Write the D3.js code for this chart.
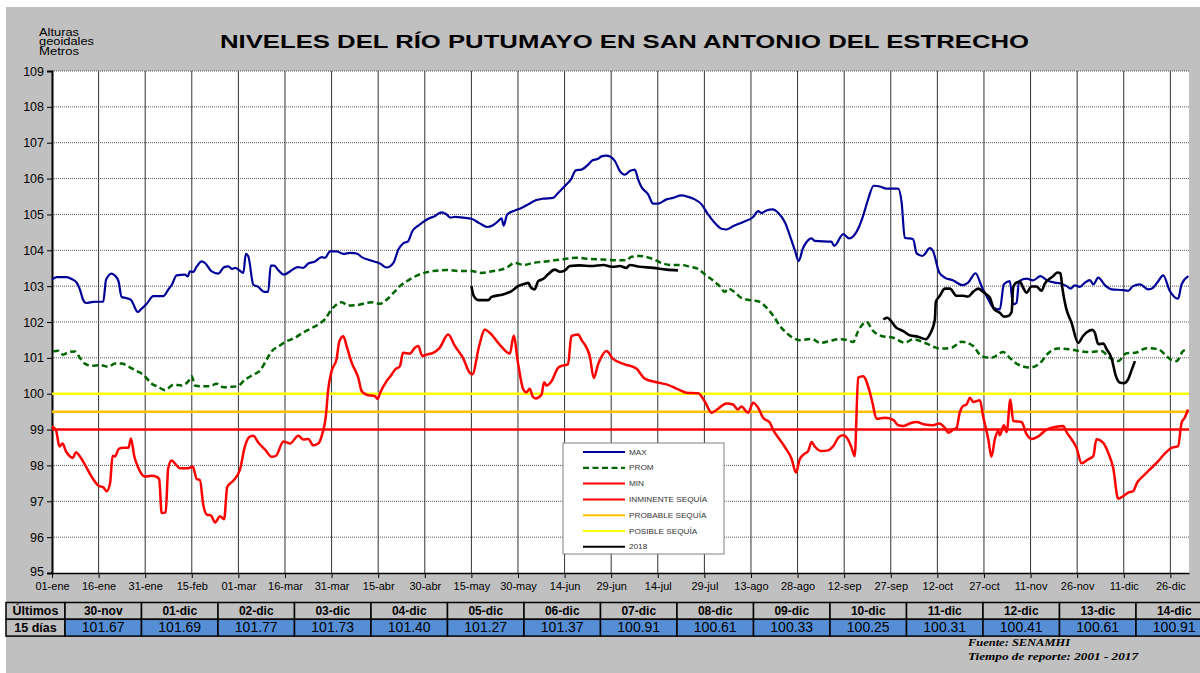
<html>
<head>
<meta charset="utf-8">
<title>Niveles del río Putumayo</title>
<script src="https://d3js.org/d3.v7.min.js"></script>
<style>
  body { margin: 0; background: #fff; }
  text { font-family: "Liberation Sans", Arial, sans-serif; }
</style>
</head>
<body>
<div class="chart"></div>
<script>
// dias desde 01-ene (año bisiesto), cada 15 dias
const tickDays = d3.range(0, 361, 15);
const tickLabels = ["01-ene","16-ene","31-ene","15-feb","01-mar","16-mar","31-mar","15-abr","30-abr","15-may","30-may","14-jun","29-jun","14-jul","29-jul","13-ago","28-ago","12-sep","27-sep","12-oct","27-oct","11-nov","26-nov","11-dic","26-dic"];
const yTicks = d3.range(95, 110);

// [dia, nivel]
const maxSerie = [[0,103.18],[1.5,103.25],[4.7,103.25],[6.3,103.2],[8,103.09],[9,102.9],[10,102.62],[11,102.53],[13.3,102.56],[16.5,102.57],[17.4,103.18],[19.2,103.35],[20.3,103.29],[21.4,103.14],[22.4,102.7],[23.8,102.67],[25.4,102.62],[26,102.53],[27.6,102.28],[28.6,102.35],[30.5,102.51],[32.6,102.72],[35.8,102.72],[37.4,102.9],[38.7,103.06],[40.1,103.3],[42.8,103.32],[43.7,103.27],[44.4,103.41],[45.5,103.4],[46.6,103.55],[48.2,103.69],[49.2,103.65],[51.4,103.41],[53.5,103.35],[55.4,103.53],[56.8,103.55],[58,103.48],[59,103.51],[60.5,103.43],[61.6,103.37],[62.4,103.9],[63.2,103.83],[64.8,103.04],[66.4,102.98],[68.3,102.84],[69.6,102.84],[70.4,103.57],[71.5,103.57],[72.9,103.44],[74.7,103.32],[76.6,103.41],[79.1,103.53],[80.9,103.51],[82.5,103.63],[84.7,103.69],[86.8,103.81],[87.9,103.79],[89.5,103.97],[91.6,103.97],[93.8,103.9],[95.9,103.93],[98.1,103.91],[99.7,103.81],[102.4,103.72],[105.6,103.63],[107.7,103.52],[109.9,103.65],[111.5,104.02],[113,104.19],[114.6,104.25],[116,104.53],[117.9,104.69],[119.5,104.79],[121.1,104.88],[123.2,104.95],[125.4,105.06],[127,105.0],[128.3,104.91],[129.7,104.93],[132.3,104.91],[135,104.88],[137.7,104.75],[140.1,104.65],[141.8,104.69],[143.6,104.81],[144.7,104.89],[145.4,104.69],[146.5,105.0],[148.4,105.09],[151.1,105.18],[153.3,105.28],[155.9,105.4],[158.1,105.44],[161.3,105.46],[162.9,105.6],[165.1,105.79],[167.2,106.0],[168.6,106.23],[170.4,106.25],[172.6,106.39],[174,106.51],[175.8,106.55],[176.9,106.62],[178.3,106.64],[179.8,106.61],[181.2,106.49],[182.8,106.21],[184.4,106.11],[186,106.21],[187.6,106.25],[188.7,105.97],[189.7,105.77],[191.9,105.56],[193.5,105.3],[195.1,105.3],[197.8,105.42],[199.9,105.46],[202.6,105.53],[204.8,105.49],[206.9,105.42],[209.1,105.28],[211.2,105.0],[213.3,104.77],[215.5,104.6],[217.1,104.58],[219.2,104.67],[222.5,104.79],[225.7,104.93],[227.3,105.09],[228.4,105.04],[230,105.11],[232,105.14],[233.8,105.04],[236,104.77],[237.6,104.39],[239.2,103.98],[240.3,103.7],[241.8,104.07],[242.9,104.23],[244.5,104.33],[245.6,104.26],[250.9,104.24],[251.8,104.12],[254.7,104.45],[256.6,104.33],[259.5,104.6],[261.1,104.96],[262.7,105.42],[264.5,105.8],[266.5,105.78],[268.6,105.72],[272.4,105.72],[273.5,105.33],[274.5,104.35],[277.2,104.31],[278.3,103.92],[280.2,103.84],[282.6,104.06],[283.6,103.98],[285.6,103.38],[287.4,103.24],[290.1,103.16],[293,103.03],[294.9,103.1],[297.3,103.36],[299.2,103.0],[301.4,102.63],[303,102.4],[305.1,102.35],[306.4,103.05],[308.3,103.14],[309.4,102.49],[310.5,102.54],[311.3,103.14],[313.7,103.21],[315.8,103.16],[318.2,103.28],[320.3,103.16],[322.8,103.1],[324.4,103.08],[326.6,103.0],[327.9,102.93],[329.2,103.02],[330.9,102.98],[332.5,103.1],[334.1,103.17],[335.2,103.05],[336.8,103.24],[339,103.02],[341.1,102.91],[344.8,102.89],[346.4,102.87],[348,103.0],[350.2,103.05],[352.9,102.91],[354.5,102.96],[356.1,103.14],[357.7,103.3],[359.8,102.87],[362.5,102.65],[363.6,103.05],[365.8,103.28]];

const promSerie = [[0.4,101.18],[2,101.2],[3.6,101.09],[5.3,101.16],[7.4,101.18],[9,101.0],[10.6,100.84],[12.8,100.78],[15.5,100.8],[18.1,100.75],[20.3,100.84],[22.4,100.84],[24.6,100.76],[27.3,100.63],[29.4,100.53],[32.1,100.28],[34.2,100.19],[36.4,100.1],[39.1,100.25],[41.7,100.23],[43.9,100.35],[45,100.49],[46,100.23],[48.2,100.21],[50.9,100.21],[53,100.28],[55.2,100.18],[57.3,100.19],[59.7,100.21],[62.1,100.39],[64.8,100.53],[67,100.65],[69.1,100.95],[70.7,101.18],[72.9,101.32],[75.5,101.46],[78.2,101.56],[80.9,101.71],[83.6,101.83],[85.7,101.93],[87.9,102.08],[90,102.35],[93.2,102.55],[95.4,102.46],[98.1,102.47],[100.2,102.51],[102.9,102.55],[105.6,102.51],[107.7,102.62],[109.9,102.81],[112,103.0],[115.2,103.19],[119,103.35],[122.7,103.42],[127,103.45],[131.3,103.42],[135,103.42],[138.2,103.37],[142,103.42],[146.3,103.51],[149,103.65],[151.7,103.59],[154.9,103.65],[158.1,103.68],[161.8,103.72],[165.1,103.76],[168.8,103.79],[173.1,103.76],[177.4,103.74],[181.7,103.72],[184.9,103.72],[186.5,103.82],[189.2,103.84],[193,103.77],[196.7,103.63],[199.4,103.59],[202.6,103.59],[205.3,103.54],[208,103.48],[210.1,103.33],[212.3,103.19],[214.9,103.0],[216.6,102.84],[217.6,102.93],[219.8,102.83],[221.9,102.67],[224.6,102.61],[227.3,102.58],[230,102.4],[232.6,102.12],[234.2,101.9],[236.4,101.7],[239.1,101.53],[240.7,101.49],[244.5,101.53],[247.2,101.42],[250.4,101.47],[253.1,101.52],[255.8,101.5],[257.9,101.44],[259.5,101.75],[262.2,102.0],[264.3,101.75],[267,101.61],[270.8,101.56],[274.5,101.42],[277.2,101.52],[281.5,101.4],[285.8,101.26],[289.5,101.28],[292.8,101.45],[296.5,101.33],[299.2,101.05],[302.4,101.0],[306.2,101.16],[308.3,101.0],[310.5,100.84],[314.8,100.73],[318,100.85],[320.7,101.13],[323.9,101.26],[327.6,101.24],[330.9,101.19],[334.1,101.16],[337.8,101.19],[340.5,101.0],[343.2,100.91],[345.9,101.13],[348.6,101.14],[352.3,101.27],[356.1,101.24],[358.2,101.1],[360.4,100.94],[362,100.91],[364.1,101.19],[365.7,101.24]];

const minSerie = [[0,99.09],[1.3,98.98],[2.4,98.53],[3.4,98.61],[4.5,98.39],[5.8,98.25],[6.7,98.21],[7.7,98.37],[9,98.25],[10.6,98.02],[12.8,97.68],[14.9,97.44],[16.5,97.39],[17.6,97.28],[18.7,97.51],[19.5,98.27],[20.3,98.25],[21.5,98.46],[23,98.49],[24.6,98.49],[25.4,98.75],[26.5,98.25],[27.6,97.97],[29.9,97.69],[32.1,97.71],[33.7,97.68],[34.5,97.62],[35.3,96.67],[36.6,96.69],[37.4,97.92],[38.5,98.14],[39.6,98.05],[41.2,97.92],[43.9,97.92],[45.3,97.97],[46.6,97.62],[47.6,97.6],[48.7,96.9],[49.8,96.63],[51.2,96.6],[52.5,96.41],[54.1,96.58],[55.4,96.5],[56.4,97.4],[58.4,97.58],[60.5,97.88],[62.1,98.53],[63.5,98.79],[64.8,98.83],[66.4,98.64],[68.6,98.44],[70.7,98.24],[72.1,98.27],[74.5,98.67],[76.6,98.61],[79.3,98.83],[80.9,98.72],[82.5,98.74],[84.1,98.56],[85.7,98.61],[86.8,98.82],[88.2,99.42],[88.9,100.11],[90,100.63],[91.6,100.97],[92.5,101.46],[93.8,101.6],[94.8,101.34],[96.5,100.86],[98.6,100.44],[99.7,100.07],[101.3,99.97],[104,99.93],[104.8,99.85],[105.6,100.02],[107.7,100.35],[109.3,100.53],[110.4,100.67],[112,100.77],[113,101.14],[115.2,101.12],[116.8,101.28],[117.9,101.33],[119.2,101.05],[120.5,101.09],[122.7,101.14],[124.8,101.28],[127.5,101.65],[129.7,101.33],[132.3,101.0],[134.5,100.58],[135.3,100.54],[137.5,101.33],[139.3,101.79],[140.9,101.7],[144.1,101.37],[147.4,101.12],[148.6,101.62],[150,100.86],[151.7,100.12],[152.7,100.04],[153.8,100.14],[154.7,99.93],[155.7,99.87],[157.6,99.98],[158.4,100.32],[159.2,100.23],[160.8,100.35],[162.9,100.72],[164.5,100.79],[166.1,100.82],[167.2,101.61],[169.4,101.65],[170.4,101.51],[173.1,101.05],[174.4,100.44],[175.8,100.82],[178.5,101.19],[180.6,100.97],[184.4,100.82],[188.1,100.7],[190.8,100.42],[194.6,100.32],[197.8,100.26],[201.6,100.12],[204.2,100.03],[208,100.01],[210.1,99.79],[212.3,99.47],[214.4,99.58],[217.1,99.73],[219.2,99.7],[220.8,99.56],[221.9,99.64],[224.1,99.47],[225.7,99.75],[227.3,99.61],[228.9,99.33],[231.1,99.19],[232.1,99.0],[234,98.75],[236,98.5],[238,98.2],[239.5,97.8],[240.7,98.17],[242.3,98.33],[243.4,98.4],[244.5,98.65],[245.6,98.52],[247.7,98.4],[249.8,98.42],[251.5,98.54],[253.4,98.8],[254.7,98.84],[256.3,98.71],[257.4,98.49],[258.4,98.26],[259.5,100.45],[261.1,100.49],[263,100.12],[264.1,99.75],[265.4,99.3],[268.1,99.33],[270.8,99.27],[272.4,99.12],[274,99.1],[276.1,99.17],[278.3,99.21],[280.9,99.14],[283.6,99.12],[285.6,99.17],[287.4,99.05],[288.5,98.91],[290.1,99.0],[291.2,99.05],[292.2,99.47],[293.3,99.66],[294.4,99.7],[295.5,99.89],[296.5,99.77],[298.7,99.82],[299.7,99.38],[301.4,98.73],[302.4,98.24],[303.5,98.73],[304.6,98.96],[305.1,98.84],[306.4,99.12],[307.3,98.93],[308.5,99.84],[309.4,99.24],[312.1,99.21],[313.7,98.87],[315.3,98.74],[317.5,98.81],[320.1,99.0],[323.3,99.08],[325.5,99.1],[326.6,98.93],[328.2,98.73],[329.8,98.49],[331.4,98.06],[333.5,98.17],[335.2,98.26],[336.2,98.73],[338.4,98.63],[340,98.35],[341.6,97.93],[343.2,97.07],[344.8,97.14],[346.4,97.24],[348,97.28],[349.3,97.52],[351.2,97.7],[353.4,97.89],[356.1,98.12],[358.2,98.33],[360.4,98.49],[362.5,98.54],[363.6,99.19],[364.6,99.33],[365.7,99.56]];

const serie2018a = [[135,103.0],[135.8,102.72],[137.2,102.61],[140.4,102.61],[141.5,102.7],[145.2,102.77],[147.9,102.86],[150,103.0],[152.2,103.07],[153.3,103.09],[154.3,102.95],[155.4,102.91],[156.5,103.14],[158.1,103.2],[159.7,103.33],[161.8,103.46],[163.5,103.4],[165.1,103.44],[166.7,103.56],[169.9,103.58],[173.6,103.56],[177.4,103.59],[180.6,103.54],[182.8,103.56],[184.9,103.51],[186,103.59],[189.2,103.54],[193.5,103.51],[197.8,103.46],[201.5,103.44]];
const serie2018b = [[267.6,102.07],[268.8,102.12],[271.8,101.84],[273.9,101.75],[276.1,101.63],[278.8,101.59],[281.3,101.52],[282.6,101.66],[284.2,102.07],[284.5,102.56],[285.8,102.73],[287.4,102.93],[289,102.93],[291.2,102.73],[293.3,102.73],[294.9,102.71],[296.5,102.84],[298.1,102.93],[300.3,102.8],[301.9,102.68],[303.3,102.35],[305.1,102.26],[306.4,102.15],[307.8,102.17],[308.9,102.28],[309.4,102.96],[310.5,103.1],[311.6,103.12],[312.6,102.96],[313.7,102.82],[315.3,102.99],[316.9,102.99],[318.5,102.87],[319.6,103.07],[322.3,103.28],[323.6,103.38],[324.6,103.36],[325.3,102.91],[326.4,102.4],[328.2,101.98],[330.3,101.42],[331.9,101.61],[333.2,101.72],[334.9,101.78],[335.7,101.7],[336.8,101.38],[338.4,101.4],[339.5,101.24],[341.1,100.98],[342.4,100.51],[343.7,100.31],[345,100.29],[346.4,100.4],[347.4,100.63],[348.6,100.91]];

const umbralNames = ["INMINENTE SEQUÍA", "PROBABLE SEQUÍA", "POSIBLE SEQUÍA"];
const umbralValues = [99, 99.5, 100];

const legendNames = ["MAX", "PROM", "MIN", "INMINENTE SEQUÍA", "PROBABLE SEQUÍA", "POSIBLE SEQUÍA", "2018"];

const tablaFechas = ["30-nov","01-dic","02-dic","03-dic","04-dic","05-dic","06-dic","07-dic","08-dic","09-dic","10-dic","11-dic","12-dic","13-dic","14-dic"];
const tablaValores = [101.67,101.69,101.77,101.73,101.40,101.27,101.37,100.91,100.61,100.33,100.25,100.31,100.41,100.61,100.91];

const W = 1200, H = 673;
const plot = {left: 52, right: 1189, top: 71, bottom: 573};

const colores = {
    MAX: "#000099", PROM: "#006600", MIN: "#ff0000",
    "INMINENTE SEQUÍA": "#ff0000", "PROBABLE SEQUÍA": "#ffc000", "POSIBLE SEQUÍA": "#ffff00", "2018": "#000000"
};

const svg = d3.select('.chart').append('svg')
    .attr('width', W).attr('height', H);

// fondo
svg.append('rect').attr('x', 0).attr('y', 0).attr('width', W).attr('height', H).attr('fill', '#fff');
svg.append('rect').attr('x', 6).attr('y', 7).attr('width', W - 6).attr('height', H - 7).attr('fill', '#c0c0c0');
svg.append('rect').attr('x', plot.left).attr('y', plot.top)
    .attr('width', plot.right - plot.left).attr('height', plot.bottom - plot.top).attr('fill', '#fff');

const xScale = d3.scaleLinear().domain([0, 366]).range([plot.left, plot.right]);
const yScale = d3.scaleLinear().domain([95, 109]).range([plot.bottom, plot.top]);

// grilla
svg.append('g').selectAll('line').data(yTicks.filter(d => d > 95))
    .join('line')
    .attr('x1', plot.left).attr('x2', plot.right)
    .attr('y1', d => yScale(d)).attr('y2', d => yScale(d))
    .attr('stroke', '#555').attr('stroke-width', 1).attr('stroke-dasharray', '1,1');
svg.append('g').selectAll('line').data(tickDays.filter(d => d > 0))
    .join('line')
    .attr('x1', d => xScale(d)).attr('x2', d => xScale(d))
    .attr('y1', plot.top).attr('y2', plot.bottom)
    .attr('stroke', '#333').attr('stroke-width', 1);

// ejes
const yAxis = d3.axisLeft(yScale).tickValues(yTicks).tickSize(5).tickFormat(d3.format('d'));
const yG = svg.append('g').attr('transform', `translate(${plot.left},0)`).call(yAxis);
yG.select('.domain').attr('stroke', '#000').attr('stroke-width', 2);
yG.selectAll('text').attr('font-size', 12.5).attr('fill', '#000').attr('x', -8)
    .style('font-family', '"Liberation Sans", Arial, sans-serif');
// el 95 queda pegado a las fechas: un poco más arriba
yG.selectAll('.tick').filter(d => d === 95).select('text').attr('dy', '0.2em');

const xAxis = d3.axisBottom(xScale).tickValues(tickDays).tickSize(5).tickSizeOuter(0)
    .tickFormat((d, i) => tickLabels[i]);
const xG = svg.append('g').attr('transform', `translate(0,${plot.bottom})`).call(xAxis);
xG.select('.domain').attr('stroke', '#000').attr('stroke-width', 1.5);
xG.selectAll('text').attr('font-size', 11).attr('fill', '#000').attr('y', 9)
    .style('font-family', '"Liberation Sans", Arial, sans-serif');

// umbrales
svg.append('g').selectAll('line').data(umbralValues)
    .join('line')
    .attr('x1', plot.left).attr('x2', plot.right)
    .attr('y1', d => yScale(d)).attr('y2', d => yScale(d))
    .attr('stroke', (d, i) => colores[umbralNames[i]]).attr('stroke-width', 2.5);

const line = d3.line()
    .x(d => xScale(d[0]))
    .y(d => yScale(d[1]))
    .curve(d3.curveMonotoneX);

const series = [
    {data: maxSerie, color: colores.MAX, width: 2.2, dash: null},
    {data: promSerie, color: colores.PROM, width: 2.5, dash: '6,3.5'},
    {data: minSerie, color: colores.MIN, width: 2.5, dash: null},
    {data: serie2018a, color: colores["2018"], width: 2.6, dash: null},
    {data: serie2018b, color: colores["2018"], width: 2.6, dash: null}
];
svg.append('g').selectAll('path').data(series)
    .join('path')
    .attr('fill', 'none')
    .attr('stroke', d => d.color)
    .attr('stroke-width', d => d.width)
    .attr('stroke-dasharray', d => d.dash)
    .attr('stroke-linejoin', 'round')
    .attr('d', d => line(d.data));

// titulo (el original tiene las letras estiradas a lo ancho)
svg.append('text').attr('x', 220).attr('y', 48)
    .attr('font-size', 19).attr('font-weight', 'bold').attr('fill', '#000')
    .attr('textLength', 809).attr('lengthAdjust', 'spacingAndGlyphs')
    .text('NIVELES DEL RÍO PUTUMAYO EN SAN ANTONIO DEL ESTRECHO');
const unidad = ['Alturas', 'geoidales', 'Metros'];
const unidadAncho = [40, 55, 40];
unidad.forEach((t, i) => {
    svg.append('text').attr('x', 39).attr('y', 36 + i * 9.3).attr('font-size', 10)
        .attr('textLength', unidadAncho[i]).attr('lengthAdjust', 'spacingAndGlyphs')
        .attr('fill', '#000').text(t);
});

// leyenda
const leg = svg.append('g');
leg.append('rect').attr('x', 563).attr('y', 443).attr('width', 161).attr('height', 111)
    .attr('fill', '#fff').attr('stroke', '#808080');
legendNames.forEach((n, i) => {
    const y = 452 + i * 15.8;
    leg.append('line').attr('x1', 583).attr('x2', 625).attr('y1', y).attr('y2', y)
        .attr('stroke', colores[n]).attr('stroke-width', n === 'PROM' ? 2.2 : 2)
        .attr('stroke-dasharray', n === 'PROM' ? '6,3.5' : null);
    const t = leg.append('text').attr('x', 629).attr('y', y + 2.5).attr('font-size', 7)
        .attr('fill', '#333').text(n);
    t.attr('textLength', t.node().getComputedTextLength() * 1.17).attr('lengthAdjust', 'spacingAndGlyphs');
});

// tabla
const tabla = svg.append('g');
const t0 = 65, cw = 76.5, r1 = 602.5, rh = 16.8;
tabla.append('rect').attr('x', 6).attr('y', r1).attr('width', t0 - 6).attr('height', rh)
    .attr('fill', '#c0c0c0').attr('stroke', '#000').attr('stroke-width', 1.5);
tabla.append('rect').attr('x', 6).attr('y', r1 + rh).attr('width', t0 - 6).attr('height', rh)
    .attr('fill', '#c0c0c0').attr('stroke', '#000').attr('stroke-width', 1.5);
tabla.append('text').attr('x', 35.5).attr('y', r1 + 12.5).attr('text-anchor', 'middle')
    .attr('font-size', 12.5).attr('font-weight', 'bold').text('Últimos');
tabla.append('text').attr('x', 35.5).attr('y', r1 + rh + 12.5).attr('text-anchor', 'middle')
    .attr('font-size', 12.5).attr('font-weight', 'bold').text('15 días');
tablaFechas.forEach((f, i) => {
    const x = t0 + i * cw;
    tabla.append('rect').attr('x', x).attr('y', r1).attr('width', cw).attr('height', rh)
        .attr('fill', '#c0c0c0').attr('stroke', '#000').attr('stroke-width', 1.5);
    tabla.append('rect').attr('x', x).attr('y', r1 + rh).attr('width', cw).attr('height', rh)
        .attr('fill', '#558ed5').attr('stroke', '#000').attr('stroke-width', 1.5);
    tabla.append('text').attr('x', x + cw / 2).attr('y', r1 + 12.5).attr('text-anchor', 'middle')
        .attr('font-size', 12).attr('font-weight', 'bold').text(f);
    tabla.append('text').attr('x', x + cw / 2).attr('y', r1 + rh + 13).attr('text-anchor', 'middle')
        .attr('font-size', 14).text(tablaValores[i].toFixed(2));
});

// fuente
svg.append('text').attr('x', 968).attr('y', 646).attr('font-size', 10.5)
    .style('font-family', '"Liberation Serif", "Times New Roman", serif')
    .attr('textLength', 102).attr('lengthAdjust', 'spacingAndGlyphs')
    .attr('font-weight', 'bold').attr('font-style', 'italic').text('Fuente: SENAMHI');
svg.append('text').attr('x', 968).attr('y', 660).attr('font-size', 10.5)
    .style('font-family', '"Liberation Serif", "Times New Roman", serif')
    .attr('textLength', 170).attr('lengthAdjust', 'spacingAndGlyphs')
    .attr('font-weight', 'bold').attr('font-style', 'italic').text('Tiempo de reporte: 2001 -  2017');
</script>
</body>
</html>
